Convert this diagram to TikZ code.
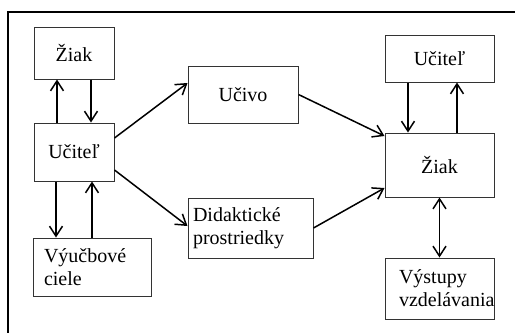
\documentclass[tikz,border=0pt]{standalone}
\usepackage{fontspec}
\setmainfont{Liberation Serif}
\usetikzlibrary{arrows.meta}
\hfuzz=20pt
\begin{document}
\begin{tikzpicture}[x=0.5pt, y=-0.5pt, line width=0.75pt,
    >={Straight Barb[length=5pt,width=6.5pt]},
    box/.style={draw=black!80, line width=0.5pt, inner sep=0pt,
      font=\fontsize{10}{11.5}\selectfont}]
  \useasboundingbox (0,0) rectangle (515,333);
  % Frame
  \draw[line width=0.9pt] (515,12) -| (8,333);

  % Nodes
  \node[box, minimum width=40pt, minimum height=26pt] (ziakL) at (74,53) {Žiak};
  \node[box, minimum width=40pt, minimum height=29pt] (ucitelL) at (74,152) {Učiteľ};
  \node[box, minimum height=29pt, text width=48pt, inner xsep=5.5pt, align=left] (ciele) at (92,267) {Výučbové\\ciele};
  \node[box, minimum width=55pt, minimum height=28.5pt] (ucivo) at (243,94.5) {Učivo};
  \node[box, minimum height=30pt, text width=57.5pt, inner xsep=2.5pt, align=left] (prostriedky) at (250.5,228) {Didaktické\\prostriedky};
  \node[box, minimum width=54.5pt, minimum height=23.5pt] (ucitelR) at (439.5,58.5) {Učiteľ};
  \node[box, minimum width=54.5pt, minimum height=32pt] (ziakR) at (439.5,165) {Žiak};
  \node[box, minimum height=30.5pt, text width=40.5pt, inner xsep=7pt, align=left] (vystupy) at (439.5,288.5) {Výstupy\\vzdelávania};

  % Edges
  \draw[->] ([xshift=-8.5pt]ucitelL.north) -- ([xshift=-8.5pt]ziakL.south);
  \draw[->] ([xshift=8.5pt]ziakL.south) -- ([xshift=8.5pt]ucitelL.north);
  \draw[->] ([xshift=-9pt]ucitelL.south) -- ([xshift=-18pt]ciele.north);
  \draw[->] (ciele.north) -- ([xshift=9pt]ucitelL.south);

  \draw[->] ([yshift=7pt]ucitelL.east) -- ([yshift=5.75pt]ucivo.west);
  \draw[->] ([yshift=-9pt]ucitelL.east) -- ([yshift=1pt]prostriedky.west);
  \draw[->] (ucivo.east) -- ([yshift=14.5pt]ziakR.west);
  \draw[->] (prostriedky.east) -- ([yshift=-11.5pt]ziakR.west);

  \draw[->] ([xshift=-15.75pt]ucitelR.south) -- ([xshift=-15.75pt]ziakR.north);
  \draw[->] ([xshift=8.75pt]ziakR.north) -- ([xshift=8.75pt]ucitelR.south);
  \draw[<->] (ziakR.south) -- (vystupy.north);
\end{tikzpicture}
\end{document}
